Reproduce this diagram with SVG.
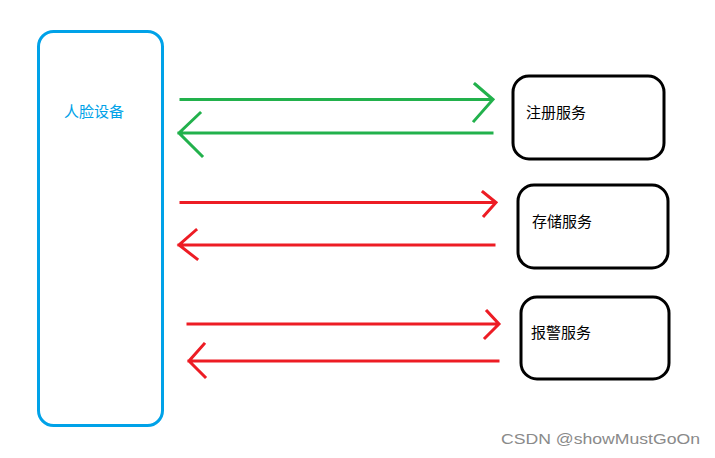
<svg xmlns="http://www.w3.org/2000/svg" width="715" height="458" viewBox="0 0 715 458">
<style>
.dev{fill:none;stroke:#00A2E8;stroke-width:3}
.svc{fill:none;stroke:#000;stroke-width:3}
.t{font-family:"Microsoft YaHei","Noto Sans CJK SC",sans-serif;font-size:15px}
.g{fill:none;stroke:#22B14C;stroke-width:3;stroke-linecap:square}
.r{fill:none;stroke:#ED1C24;stroke-width:3;stroke-linecap:square}
.wm{font-family:"Liberation Sans",Arial,sans-serif;font-size:15px;fill:#8a8a8a}
</style>
<rect width="715" height="458" fill="#fff"/>
<g id="face-device">
<rect class="dev" x="38.5" y="31.5" width="124" height="394" rx="15" ry="15"/>
<text class="t" x="64" y="116.5" fill="#00A2E8">人脸设备</text>
</g>
<g id="register-service">
<rect class="svc" x="513" y="76" width="151" height="83" rx="16" ry="16"/>
<text class="t" x="526" y="117.5" fill="#000">注册服务</text>
</g>
<g id="storage-service">
<rect class="svc" x="518" y="185" width="150" height="83" rx="16" ry="16"/>
<text class="t" x="532" y="226.5" fill="#000">存储服务</text>
</g>
<g id="alarm-service">
<rect class="svc" x="521" y="297" width="148" height="82" rx="16" ry="16"/>
<text class="t" x="531" y="337.5" fill="#000">报警服务</text>
</g>
<g id="connectors">
<path class="g" d="M181 99.5H492M475 84L493 99.5L474 121"/>
<path class="g" d="M492 133H179M200 113L179 133L202 156"/>
<path class="r" d="M181 202.5H495M483 192L496 202.5L484 216"/>
<path class="r" d="M494 245H179M196 230L179 245L197 259"/>
<path class="r" d="M188 324H498M487 311L499 324L485 338"/>
<path class="r" d="M498 361H189M204 344L189 361L205 377"/>
</g>
<text class="wm" x="501" y="444" textLength="199" lengthAdjust="spacingAndGlyphs">CSDN @showMustGoOn</text>
</svg>
